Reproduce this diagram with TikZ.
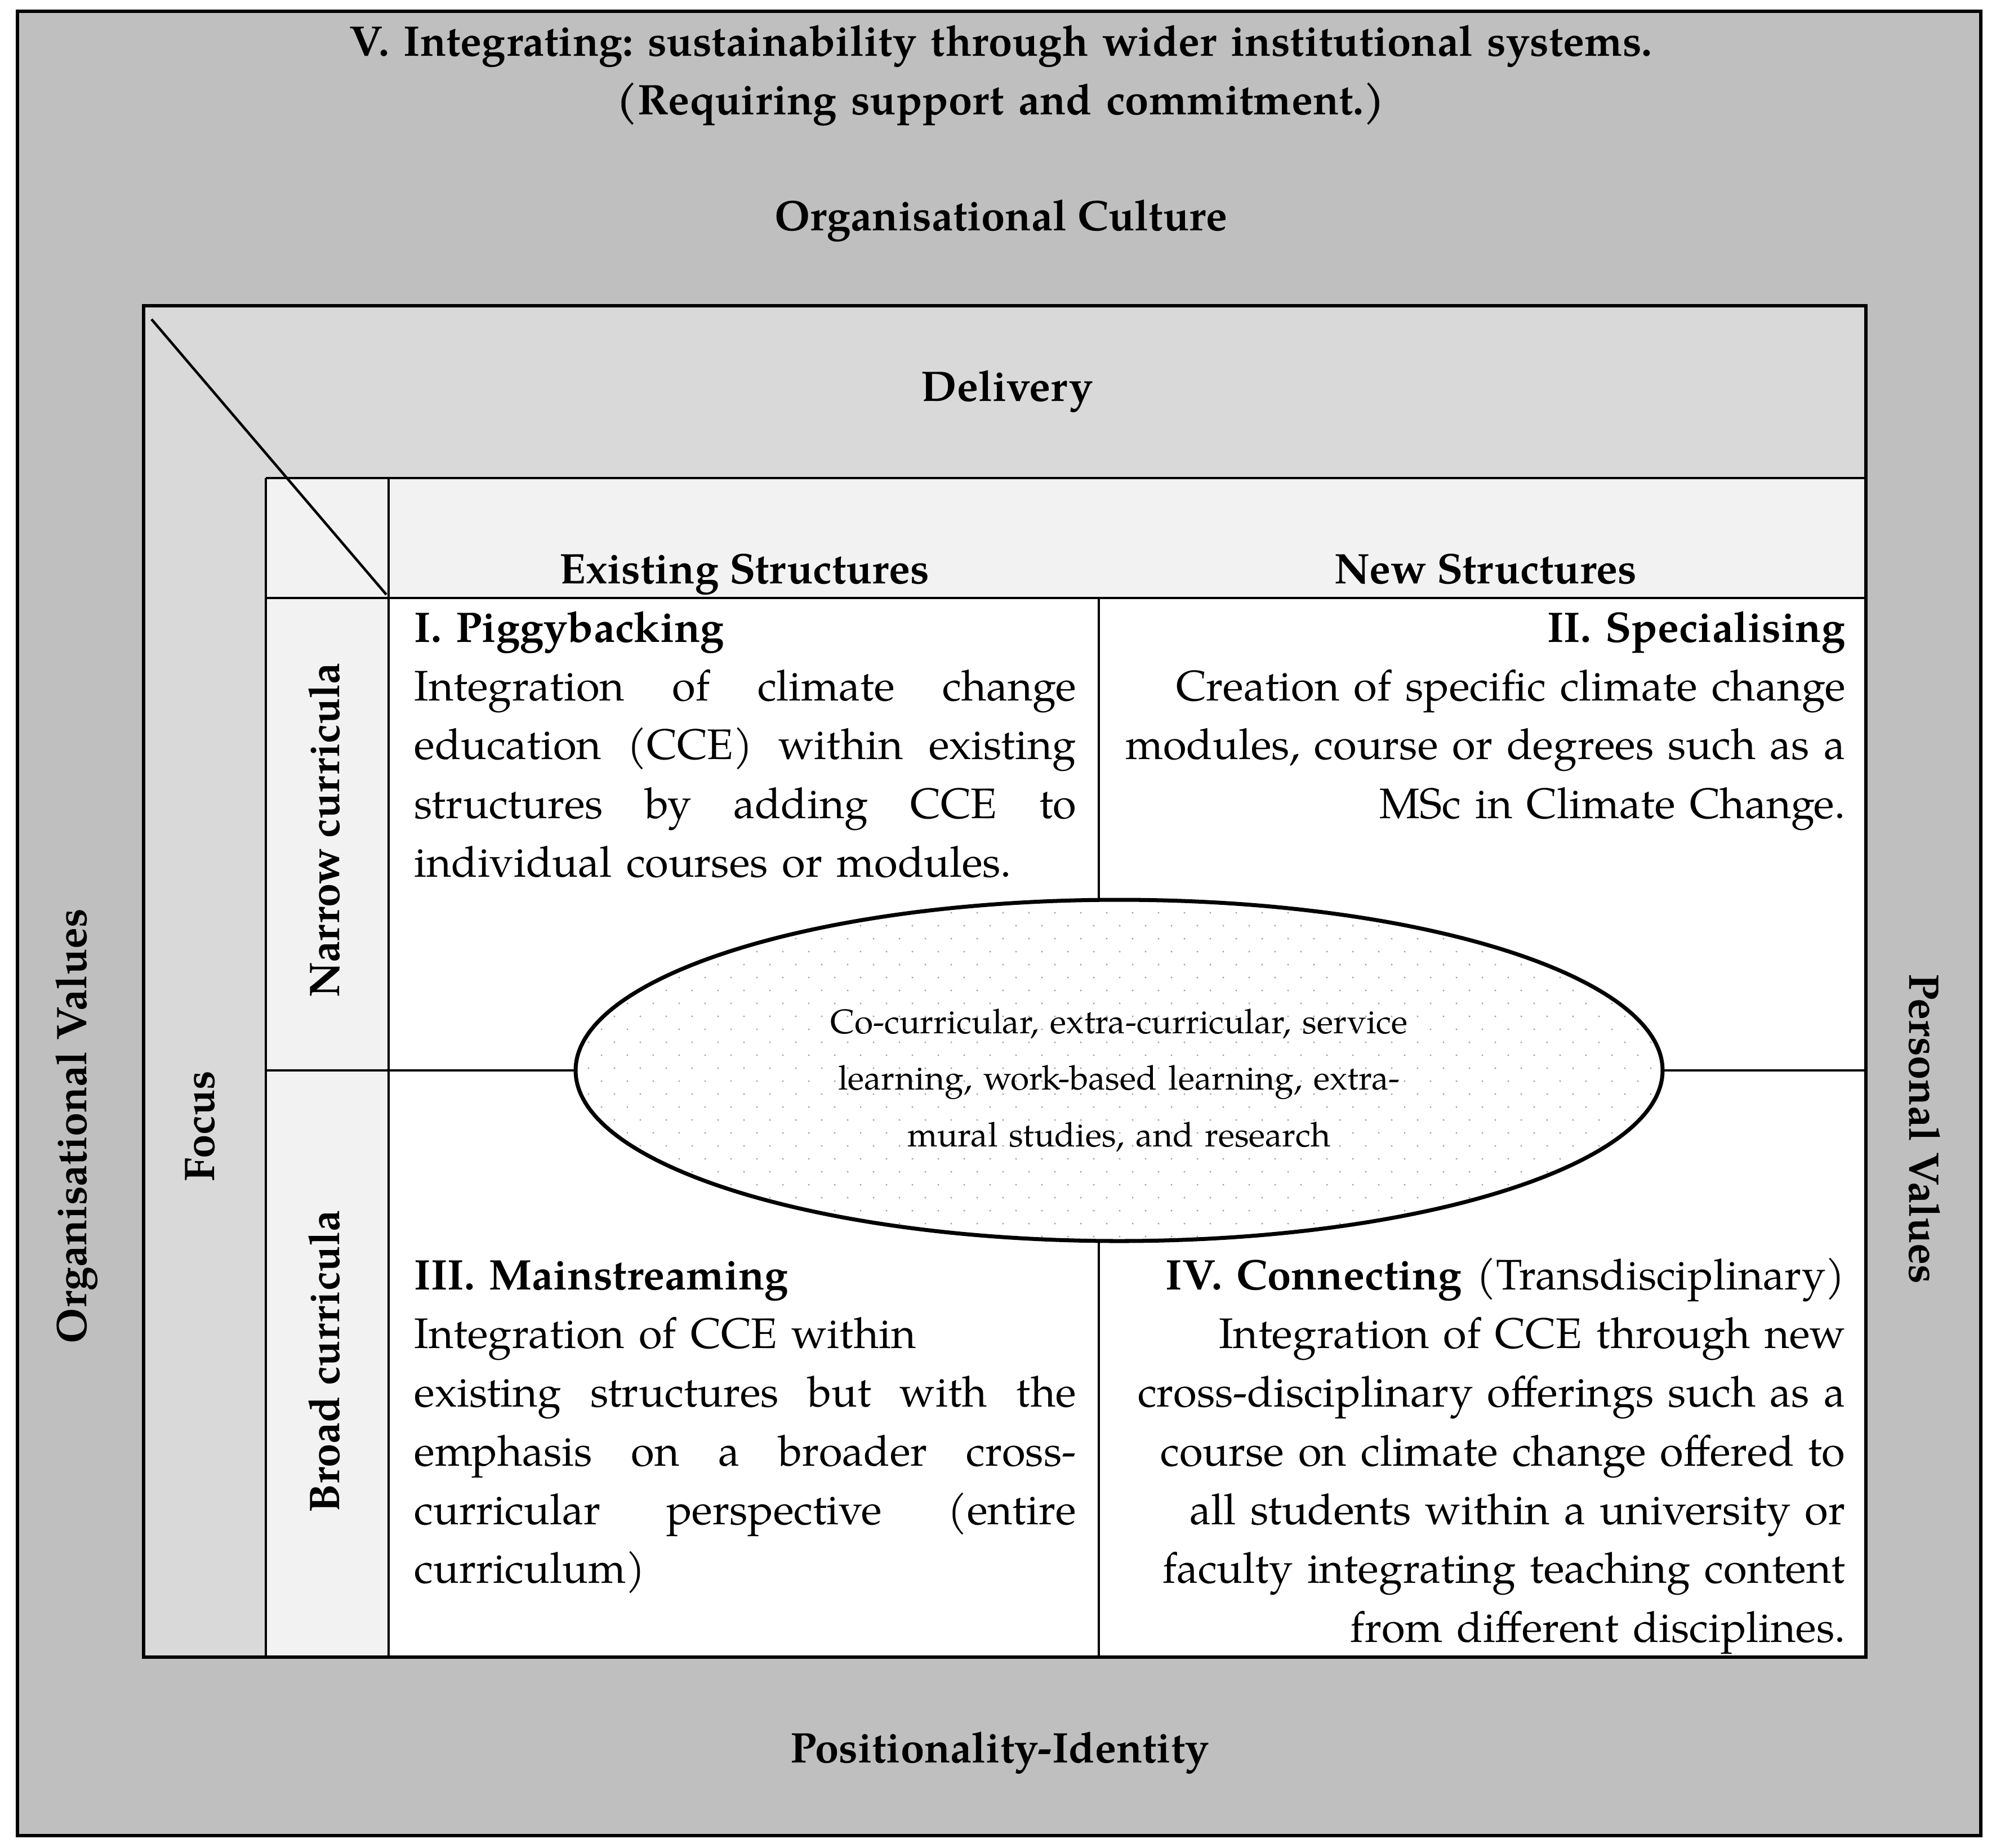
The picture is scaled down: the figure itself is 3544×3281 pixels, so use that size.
\documentclass[tikz,border=0pt]{standalone}
\usepackage{fontspec}
\setmainfont{TeX Gyre Pagella}
\usetikzlibrary{shapes.geometric}
\definecolor{outerg}{HTML}{BFBFBF}
\definecolor{midg}{HTML}{D9D9D9}
\definecolor{lightg}{HTML}{F2F2F2}
\definecolor{dotg}{HTML}{A0A0A0}
\newlength\qwl
\setlength\qwl{117.5mm}
\newcommand\jl[1]{\leavevmode\hbox to\qwl{#1}}
\frenchspacing
\begin{document}
\begin{tikzpicture}[x=0.1mm,y=-0.1mm,
  txt/.style={font=\fontsize{21.6}{29.7}\selectfont, inner sep=0pt},
  bld/.style={font=\fontsize{21.6}{29.7}\selectfont\bfseries, inner sep=0pt},
  framel/.style={draw=black, line width=1.5pt},
  gridl/.style={draw=black, line width=1.3pt},
  thinl/.style={draw=black, line width=0.9pt}]
\useasboundingbox (0,0) rectangle (3544,3281);
\fill[white] (0,0) rectangle (3544,3281);
% outer and inner frames
\draw[framel, fill=outerg] (31,20) rectangle (3517,3260);
\fill[midg] (255,543) rectangle (3313,2943);
\fill[lightg] (472,849) rectangle (3313,1062);
\fill[lightg] (472,1062) rectangle (690,2943);
\fill[white] (690,1062) rectangle (3313,2943);
% grid
\draw[gridl] (472,849) -- (3313,849);
\draw[gridl] (472,849) -- (472,2943);
\draw[gridl] (690,849) -- (690,2943);
\draw[gridl] (472,1062) -- (3313,1062);
\draw[gridl] (1951,1062) -- (1951,2943);
\draw[thinl] (472,1901) -- (3313,1901);
\draw[gridl] (269,567) -- (686,1056);
\draw[framel] (255,543) rectangle (3313,2943);
% ellipse with dots
\fill[white] (1987,1901) ellipse [x radius=965, y radius=303];
\begin{scope}
\clip (1987,1901) ellipse [x radius=965, y radius=303];
\foreach \i in {0,...,42}{\foreach \j in {0,...,13}{
  \fill[dotg] (1022+46*\i,1598+46*\j) circle[radius=0.17mm];
  \fill[dotg] (1045+46*\i,1621+46*\j) circle[radius=0.17mm];
}}
\end{scope}
\node[ellipse, draw=black, line width=2pt, minimum width=193mm, minimum height=60.6mm, inner sep=0pt] (ell) at (1987,1901) {};
\node[font=\fontsize{17.2}{28.7}\selectfont, inner sep=0pt, text width=140mm, align=center, anchor=base] (elltxt) at (1987,1835)
  {Co-curricular, extra-curricular, service\\learning, work-based learning, extra-\\mural studies, and research};
% titles
\node[bld, text width=300mm, align=center, anchor=base] (title) at (1777,99)
  {V. Integrating: sustainability through wider institutional systems.\\(Requiring support and commitment.)};
\node[bld, anchor=base] (orgcult) at (1777,409) {Organisational Culture};
\node[bld, anchor=base] (deliv) at (1788,712) {Delivery};
\node[bld, anchor=base] (exist) at (1322,1036) {Existing Structures};
\node[bld, anchor=base] (newst) at (2638,1036) {New Structures};
\node[bld, anchor=base] (posid) at (1775,3130) {Positionality-Identity};
\node[bld, rotate=90] (orgval) at (136,2000) {Organisational Values};
\node[bld, rotate=90] (focus) at (355,2000) {Focus};
\node[bld, rotate=90] (narrow) at (576,1474) {Narrow curricula};
\node[bld, rotate=90] (broad) at (576,2418) {Broad curricula};
\node[bld, rotate=-90] (persval) at (3417,2005) {Personal Values};
% quadrants
\node[txt, text width=117.5mm, align=left, anchor=base west] (q1) at (735,1140)
  {\textbf{I. Piggybacking}\\
   \jl{Integration\hfill of\hfill climate\hfill change}\\
   \jl{education\hfill (CCE)\hfill within\hfill existing}\\
   \jl{structures\hfill by\hfill adding\hfill CCE\hfill to}\\
   individual courses or modules.};
\node[txt, text width=140mm, align=right, anchor=base east] (q2) at (3277,1140)
  {\textbf{II. Specialising}\\
   Creation of specific climate change\\
   modules, course or degrees such as a\\
   MSc in Climate Change.};
\node[txt, text width=117.5mm, align=left, anchor=base west] (q3) at (735,2290)
  {\textbf{III. Mainstreaming}\\
   Integration of CCE within\\
   \jl{existing\hfill structures\hfill but\hfill with\hfill the}\\
   \jl{emphasis\hfill on\hfill a\hfill broader\hfill cross-}\\
   \jl{curricular\hfill perspective\hfill (entire}\\
   curriculum)};
\node[txt, text width=140mm, align=right, anchor=base east] (q4) at (3277,2290)
  {\textbf{IV. Connecting} (Transdisciplinary)\\
   Integration of CCE through new\\
   cross-disciplinary offerings such as a\\
   course on climate change offered to\\
   all students within a university or\\
   faculty integrating teaching content\\
   from different disciplines.};
\end{tikzpicture}
\end{document}
